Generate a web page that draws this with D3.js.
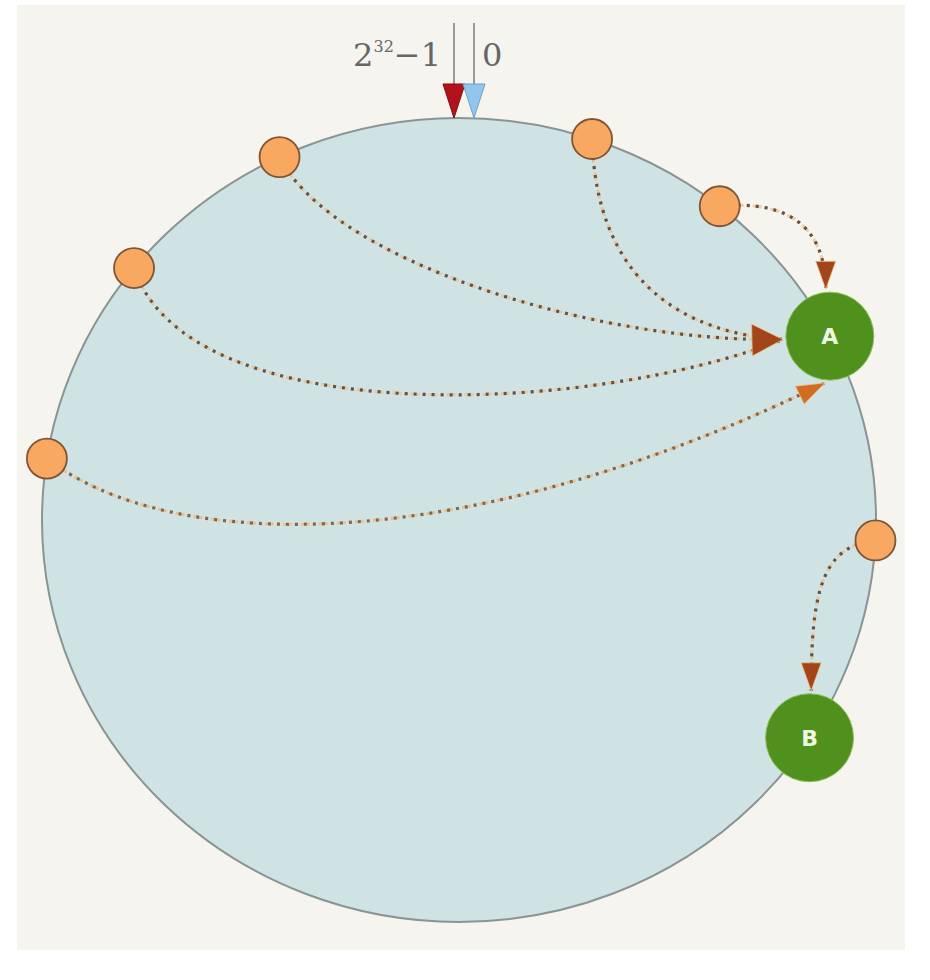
<!DOCTYPE html>
<html>
<head>
<meta charset="utf-8">
<script src="https://cdn.jsdelivr.net/npm/d3@7"></script>
<style>
    body { margin: 0; background: #fff; }
    svg { display: block; }
</style>
</head>
<body>
<svg id="chart" width="930" height="980"></svg>
<script>
// hash ring positions, 0 .. 2^32 - 1
const keyHashes = [3990883611, 222049809, 461708985, 3684222947, 3326022674, 1108531059];
const serverNames = ["A", "B"];
const serverHashes = [749042296, 1465013345];
const maxLabel = ["2", "32", "\u22121"];
const zeroLabel = "0";

// layout of each key -> server curve (handles relative to the ends, tip port on server, head kind)
const linkShapes = [
    { out: [53, 105], in: [-183, 4], port: 176, head: "large", tone: "dark" },
    { out: [4, 139], in: [-103, -6], port: 176, head: "none", tone: "dark" },
    { out: [71, -7], in: [0, -60], port: -95, head: "small", tone: "dark" },
    { out: [55, 165], in: [-190, 75], port: 176, head: "none", tone: "dark" },
    { out: [126, 97], in: [-356, 174], port: 96, head: "small", tone: "light" },
    { out: [-56, 5], in: [0, -92], port: -88, head: "small", tone: "dark" }
];

const width = 930;
const height = 980;
const ring = { cx: 459, cy: 520, rx: 417, ry: 402 };
const keyRadius = 20;
const serverRadius = 44;
const tipGap = 3;
const heads = {
    large: { len: 31, w: 32 },
    small: { len: 28, w: 20 }
};
const tones = {
    dark: { dots: "#665244", glow: "#f1bf86", head: "#a3451a" },
    light: { dots: "#86664a", glow: "#f3b574", head: "#d06d22" }
};

const svg = d3.select("#chart");

const angle = d3.scaleLinear()
    .domain([0, 2 ** 32])
    .range([0, 2 * Math.PI]);

function ringPoint(hash) {
    const a = angle(hash);
    return [ring.cx + ring.rx * Math.sin(a), ring.cy - ring.ry * Math.cos(a)];
}

// next server clockwise from the key
const order = d3.range(serverHashes.length).sort((a, b) => serverHashes[a] - serverHashes[b]);
const sortedHashes = order.map(i => serverHashes[i]);
function serverFor(hash) {
    const i = d3.bisectLeft(sortedHashes, hash);
    return order[i === order.length ? 0 : i];
}

const servers = serverNames.map((name, i) => ({ name, hash: serverHashes[i], pos: ringPoint(serverHashes[i]) }));
const keys = keyHashes.map((hash, i) => ({ hash, pos: ringPoint(hash), server: serverFor(hash), shape: linkShapes[i] }));

svg.append("rect")
    .attr("x", 17)
    .attr("y", 5)
    .attr("width", 888)
    .attr("height", 945)
    .attr("fill", "#f6f4ef");

svg.append("ellipse")
    .attr("cx", ring.cx)
    .attr("cy", ring.cy)
    .attr("rx", ring.rx)
    .attr("ry", ring.ry)
    .attr("fill", "#cfe3e5")
    .attr("stroke", "#899494")
    .attr("stroke-width", 2);

// 2^32-1 and 0 markers at the top
const ringTop = ringPoint(0);
const markers = [
    { x: ringTop[0] - 5, fill: "#b3121d", stroke: "#7a1016" },
    { x: ringTop[0] + 15, fill: "#92c6ec", stroke: "#6f9fc4" }
];
const mk = svg.append("g").attr("class", "markers");

mk.selectAll("line")
    .data(markers)
    .join("line")
    .attr("x1", d => d.x)
    .attr("x2", d => d.x)
    .attr("y1", ringTop[1] - 95)
    .attr("y2", ringTop[1] - 30)
    .attr("stroke", "#7d7d7d")
    .attr("stroke-width", 1.5);

mk.selectAll("path")
    .data(markers)
    .join("path")
    .attr("d", d => `M${d.x - 11},${ringTop[1] - 34}L${d.x + 11},${ringTop[1] - 34}L${d.x},${ringTop[1]}Z`)
    .attr("fill", d => d.fill)
    .attr("stroke", d => d.stroke)
    .attr("stroke-width", 1);

const label = svg.append("text")
    .attr("x", markers[0].x - 13)
    .attr("y", ringTop[1] - 52)
    .attr("text-anchor", "end")
    .attr("font-family", "'DejaVu Serif', serif")
    .attr("font-size", 32)
    .attr("fill", "#666");
label.append("tspan").text(maxLabel[0]);
label.append("tspan")
    .attr("dy", -14)
    .attr("font-size", 16)
    .text(maxLabel[1]);
label.append("tspan")
    .attr("dy", 14)
    .text(maxLabel[2]);

svg.append("text")
    .attr("x", markers[1].x + 8)
    .attr("y", ringTop[1] - 52)
    .attr("font-family", "'DejaVu Serif', serif")
    .attr("font-size", 32)
    .attr("fill", "#666")
    .text(zeroLabel);

// curves from keys to their server
function linkGeom(k) {
    const s = servers[k.server];
    const p = k.shape.port * Math.PI / 180;
    const tip = [s.pos[0] + (serverRadius + tipGap) * Math.cos(p), s.pos[1] + (serverRadius + tipGap) * Math.sin(p)];
    const c1 = [k.pos[0] + k.shape.out[0], k.pos[1] + k.shape.out[1]];
    const c2 = [tip[0] + k.shape.in[0], tip[1] + k.shape.in[1]];
    const path = d3.path();
    path.moveTo(k.pos[0], k.pos[1]);
    path.bezierCurveTo(c1[0], c1[1], c2[0], c2[1], tip[0], tip[1]);
    const dx = -k.shape.in[0];
    const dy = -k.shape.in[1];
    const n = Math.hypot(dx, dy);
    return { d: path.toString(), tip, dir: [dx / n, dy / n] };
}

const links = svg.append("g").attr("class", "links");
const linkData = keys.map(k => Object.assign({ geom: linkGeom(k) }, k));

links.selectAll("path.glow")
    .data(linkData)
    .join("path")
    .attr("class", "glow")
    .attr("d", d => d.geom.d)
    .attr("fill", "none")
    .attr("stroke", d => tones[d.shape.tone].glow)
    .attr("stroke-width", 3)
    .attr("stroke-dasharray", "3,3")
    .attr("stroke-dashoffset", 3)
    .attr("opacity", 0.75);

links.selectAll("path.dots")
    .data(linkData)
    .join("path")
    .attr("class", "dots")
    .attr("d", d => d.geom.d)
    .attr("fill", "none")
    .attr("stroke", d => tones[d.shape.tone].dots)
    .attr("stroke-width", 3.2)
    .attr("stroke-dasharray", "3,6");

// the curves sharing a port end under one head
links.selectAll("path.head")
    .data(linkData.filter(d => d.shape.head !== "none"))
    .join("path")
    .attr("class", "head")
    .attr("d", d => {
        const h = heads[d.shape.head];
        const [tx, ty] = d.geom.tip;
        const [ux, uy] = d.geom.dir;
        const bx = tx - ux * h.len;
        const by = ty - uy * h.len;
        const px = -uy * h.w / 2;
        const py = ux * h.w / 2;
        return `M${tx},${ty}L${bx + px},${by + py}L${bx - px},${by - py}Z`;
    })
    .attr("fill", d => tones[d.shape.tone].head)
    .attr("stroke", "#f0c08a")
    .attr("stroke-width", 0.8);

// key nodes
svg.append("g")
    .selectAll("circle")
    .data(keys)
    .join("circle")
    .attr("cx", d => d.pos[0])
    .attr("cy", d => d.pos[1])
    .attr("r", keyRadius)
    .attr("fill", "#f9a862")
    .attr("stroke", "#7f5535")
    .attr("stroke-width", 1.8);

// server nodes
const srv = svg.append("g")
    .selectAll("g")
    .data(servers)
    .join("g")
    .attr("transform", d => `translate(${d.pos[0]},${d.pos[1]})`);

srv.append("circle")
    .attr("r", serverRadius)
    .attr("fill", "#4f911c")
    .attr("stroke", "#8cc05a")
    .attr("stroke-width", 1);

srv.append("text")
    .attr("text-anchor", "middle")
    .attr("dy", "0.36em")
    .attr("font-family", "'DejaVu Sans', sans-serif")
    .attr("font-weight", "bold")
    .attr("font-size", 22)
    .attr("fill", "#eef7e2")
    .text(d => d.name);
</script>
</body>
</html>
